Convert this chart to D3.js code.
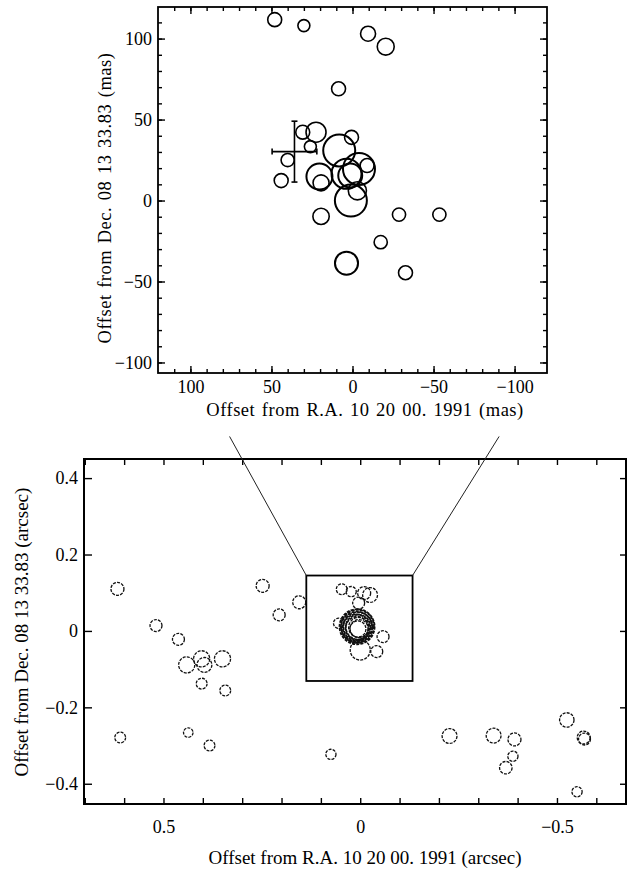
<!DOCTYPE html>
<html lang="en">
<head>
<meta charset="utf-8">
<script src="https://cdn.jsdelivr.net/npm/d3@7"></script>
<style>
    body { margin: 0; background: #fff; }
    svg { display: block; }
    .frame { fill: none; stroke: #000; }
    .axis path { display: none; }
    .axis line { stroke: #000; }
</style>
</head>
<body>
<div id="chart"></div>
<script>
    // top panel (mas): R.A. offset, Dec. offset, relative peak brightness
    const raMas   = [48, 30, -9.6, -20.5, 8.6, 30.7, 22.5, 26, 40, 44, 8.2, 0.6, 20.4, 19.4, 3.7, -4, 1.4, -9, -3, 1, 19.4, -28.7, -53.6, -17.4, 3.7, -32.7];
    const decMas  = [111.7, 108, 103, 95, 69, 42.2, 42.2, 33.3, 25, 12.3, 30.9, 39, 14.8, 10.9, 16.5, 19.5, 15.4, 21.6, 6, 0, -9.8, -8.7, -8.7, -25.7, -38.7, -44.6];
    const peakMas = [19, 14, 22, 28, 19, 19, 39, 14, 17, 19, 100, 19, 66, 25, 88, 100, 56, 19, 32, 100, 26, 17, 17, 17, 52, 19];
    // error bar on the top panel (mas)
    const errCentre = [35.8, 30.2];
    const errHalf = [13.8, 18.8];

    // bottom panel (arcsec)
    const raArc   = [0.617, 0.519, 0.462, 0.248, 0.206, 0.155, 0.441, 0.403, 0.396, 0.350, 0.403, 0.343, 0.610, 0.437, 0.383, 0.0745,
                     -0.227, -0.339, -0.392, -0.388, -0.370, -0.525, -0.568, -0.570, -0.551,
                     0.047, 0.023, -0.010, -0.025, 0.004, -0.058, 0.055, 0.0, -0.042,
                     0.008, 0.007, 0.009, 0.006, 0.010, 0.005, 0.008, 0.004, 0.003, 0.006];
    const decArc  = [0.110, 0.014, -0.022, 0.118, 0.042, 0.075, -0.089, -0.073, -0.089, -0.073, -0.138, -0.156, -0.279, -0.266, -0.300, -0.323,
                     -0.275, -0.274, -0.284, -0.328, -0.358, -0.233, -0.279, -0.283, -0.421,
                     0.109, 0.103, 0.099, 0.094, 0.073, -0.015, 0.020, -0.050, -0.054,
                     0.011, 0.012, 0.010, 0.011, 0.008, 0.010, 0.007, 0.009, 0.006, 0.005];
    const peakArc = [13, 11, 11, 13, 11, 13, 20, 20, 17, 20, 9, 9, 9, 7, 9, 8,
                     17, 17, 13, 8, 12, 16, 13, 11, 8,
                     9, 8, 13, 17, 11, 11, 8, 31, 11,
                     95, 84, 74, 65, 56, 48, 41, 31, 25, 20];
    // zoom box (arcsec) and the lines that lead up to the top panel
    const boxRa = [0.137, -0.133];
    const boxDec = [-0.131, 0.145];
    const leadLines = [[[0.137, 0.145], [0.332, 0.509]], [[-0.133, 0.145], [-0.353, 0.509]]];

    const topXTicks = [100, 50, 0, -50, -100];
    const topYTicks = [100, 50, 0, -50, -100];
    const botXTicks = [0.5, 0, -0.5];
    const botYTicks = [0.4, 0.2, 0, -0.2, -0.4];

    const W = 627, H = 875;
    const svg = d3.select('#chart').append('svg').attr('width', W).attr('height', H);
    const minus = s => String(s).replace('-', '\u2212');

    /**************** top panel ****************/
    const topFont = '"Liberation Serif", "Times New Roman", serif';
    const xT = d3.scaleLinear().domain([120, -120]).range([158, 547]);
    const yT = d3.scaleLinear().domain([-106.5, 119.5]).range([373, 7]);
    const rT = d3.scaleSqrt().domain([0, 100]).range([0, 16]);
    const topG = svg.append('g');

    const addAxis = (g, axis, tr) => g.append('g').attr('class', 'axis').attr('transform', tr).call(axis);
    const minorT = d3.range(-100, 111, 10);

    addAxis(topG, d3.axisBottom(xT).tickValues(topXTicks).tickSize(-7).tickPadding(7).tickFormat(minus), `translate(0,${yT.range()[0]})`);
    addAxis(topG, d3.axisBottom(xT).tickValues(minorT).tickSize(-4).tickFormat(''), `translate(0,${yT.range()[0]})`);
    addAxis(topG, d3.axisTop(xT).tickValues(topXTicks).tickSize(-7).tickFormat(''), `translate(0,${yT.range()[1]})`);
    addAxis(topG, d3.axisTop(xT).tickValues(minorT).tickSize(-4).tickFormat(''), `translate(0,${yT.range()[1]})`);
    addAxis(topG, d3.axisLeft(yT).tickValues(topYTicks).tickSize(-7).tickPadding(6).tickFormat(minus), `translate(${xT.range()[0]},0)`);
    addAxis(topG, d3.axisLeft(yT).tickValues(minorT).tickSize(-4).tickFormat(''), `translate(${xT.range()[0]},0)`);
    addAxis(topG, d3.axisRight(yT).tickValues(topYTicks).tickSize(-7).tickFormat(''), `translate(${xT.range()[1]},0)`);
    addAxis(topG, d3.axisRight(yT).tickValues(minorT).tickSize(-4).tickFormat(''), `translate(${xT.range()[1]},0)`);
    topG.selectAll('.axis text').attr('font-family', topFont).attr('font-size', 18).attr('fill', '#000');
    topG.selectAll('.axis line').attr('stroke-width', 1.4);

    topG.append('rect').attr('class', 'frame')
        .attr('x', xT.range()[0]).attr('y', yT.range()[1])
        .attr('width', xT.range()[1] - xT.range()[0]).attr('height', yT.range()[0] - yT.range()[1])
        .attr('stroke-width', 1.8);

    topG.append('g').selectAll('circle')
        .data(raMas.map((d, i) => ({x: d, y: decMas[i], p: peakMas[i]})))
        .join('circle')
        .attr('cx', d => xT(d.x)).attr('cy', d => yT(d.y)).attr('r', d => rT(d.p))
        .attr('fill', 'none').attr('stroke', '#000').attr('stroke-width', d => d.p > 50 ? 2 : 1.6);

    // error bar
    const eb = topG.append('g').attr('stroke', '#000').attr('stroke-width', 1.6);
    const [ex, ey] = errCentre, [hx, hy] = errHalf;
    eb.append('line').attr('x1', xT(ex + hx)).attr('x2', xT(ex - hx)).attr('y1', yT(ey)).attr('y2', yT(ey));
    eb.append('line').attr('x1', xT(ex)).attr('x2', xT(ex)).attr('y1', yT(ey + hy)).attr('y2', yT(ey - hy));
    [ex + hx, ex - hx].forEach(v => eb.append('line').attr('x1', xT(v)).attr('x2', xT(v)).attr('y1', yT(ey) - 3).attr('y2', yT(ey) + 3));
    [ey + hy, ey - hy].forEach(v => eb.append('line').attr('y1', yT(v)).attr('y2', yT(v)).attr('x1', xT(ex) - 3).attr('x2', xT(ex) + 3));

    topG.append('text').attr('x', 365).attr('y', 416).attr('text-anchor', 'middle')
        .attr('font-family', topFont).attr('font-size', 18.5).attr('letter-spacing', 0.5).attr('word-spacing', 1.5)
        .text('Offset from R.A. 10 20 00. 1991 (mas)');
    topG.append('text').attr('transform', 'translate(111,198) rotate(-90)').attr('text-anchor', 'middle')
        .attr('font-family', topFont).attr('font-size', 18.5).attr('letter-spacing', 0.5).attr('word-spacing', 1.5)
        .text('Offset from Dec. 08 13 33.83 (mas)');

    /**************** bottom panel ****************/
    const botFont = '"Liberation Serif", "Times New Roman", serif';
    const xB = d3.scaleLinear().domain([0.702, -0.678]).range([84, 627]);
    const yB = d3.scaleLinear().domain([-0.453, 0.45]).range([804, 459]);
    const rB = d3.scaleSqrt().domain([0, 100]).range([0, 18]);
    const botG = svg.append('g');
    const minorB = d3.range(-6, 8).map(d => d / 10);

    addAxis(botG, d3.axisBottom(xB).tickValues(botXTicks).tickSize(0).tickPadding(16).tickFormat(minus), `translate(0,${yB.range()[0]})`);
    addAxis(botG, d3.axisBottom(xB).tickValues(minorB).tickSize(-6).tickFormat(''), `translate(0,${yB.range()[0]})`);
    addAxis(botG, d3.axisTop(xB).tickValues(minorB).tickSize(-6).tickFormat(''), `translate(0,${yB.range()[1]})`);
    addAxis(botG, d3.axisLeft(yB).tickValues(botYTicks).tickSize(-8).tickPadding(6).tickFormat(minus), `translate(${xB.range()[0]},0)`);
    addAxis(botG, d3.axisRight(yB).tickValues(botYTicks).tickSize(-6).tickFormat(''), `translate(${xB.range()[1] - 1},0)`);
    botG.selectAll('.axis text').attr('font-family', botFont).attr('font-size', 18).attr('fill', '#000');
    botG.selectAll('.axis line').attr('stroke-width', 1.4);

    botG.append('rect').attr('class', 'frame')
        .attr('x', xB.range()[0]).attr('y', yB.range()[1])
        .attr('width', xB.range()[1] - xB.range()[0] - 1).attr('height', yB.range()[0] - yB.range()[1])
        .attr('stroke-width', 2);

    // zoom box and leader lines
    botG.append('rect').attr('class', 'frame')
        .attr('x', xB(boxRa[0])).attr('y', yB(boxDec[1]))
        .attr('width', xB(boxRa[1]) - xB(boxRa[0])).attr('height', yB(boxDec[0]) - yB(boxDec[1]))
        .attr('stroke-width', 1.8);
    botG.append('g').selectAll('line').data(leadLines).join('line')
        .attr('x1', d => xB(d[0][0])).attr('y1', d => yB(d[0][1]))
        .attr('x2', d => xB(d[1][0])).attr('y2', d => yB(d[1][1]))
        .attr('stroke', '#222').attr('stroke-width', 1);

    botG.append('g').selectAll('circle')
        .data(raArc.map((d, i) => ({x: d, y: decArc[i], p: peakArc[i]})))
        .join('circle')
        .attr('cx', d => xB(d.x)).attr('cy', d => yB(d.y)).attr('r', d => rB(d.p))
        .attr('fill', 'none').attr('stroke', '#111').attr('stroke-width', d => d.p > 35 ? 1.8 : 1.3)
        .attr('stroke-dasharray', '3 1.2');

    botG.append('text').attr('x', 365).attr('y', 864).attr('text-anchor', 'middle')
        .attr('font-family', botFont).attr('font-size', 19)
        .text('Offset from R.A. 10 20 00. 1991 (arcsec)');
    botG.append('text').attr('transform', 'translate(28,632) rotate(-90)').attr('text-anchor', 'middle')
        .attr('font-family', botFont).attr('font-size', 19)
        .text('Offset from Dec. 08 13 33.83  (arcsec)');
</script>
</body>
</html>
